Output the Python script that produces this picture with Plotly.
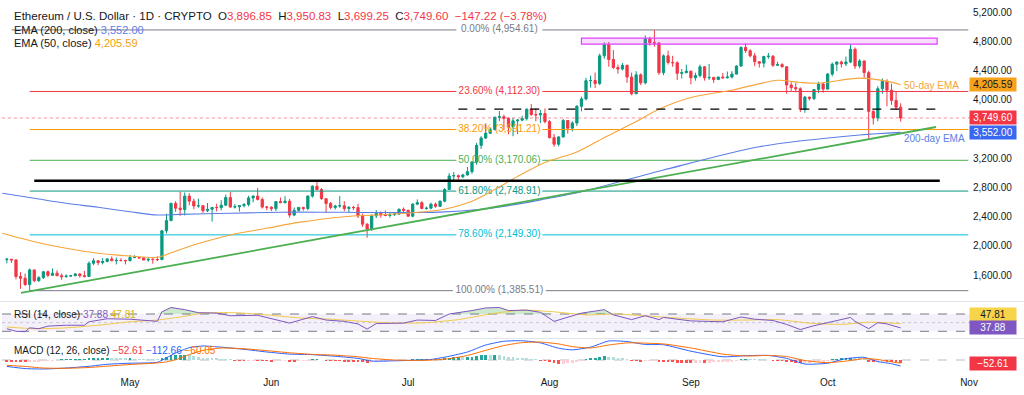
import numpy as np
import pandas as pd
import plotly.graph_objects as go

# ---------------- DATA ----------------
start_date = "2025-04-04"
end_date = "2025-10-17"

opens = [
    1810, 1816, 1806, 1580, 1555, 1470, 1670, 1522, 1565, 1645, 1595, 1625, 1590, 1577, 1585, 1590, 1615, 1590, 1580, 1760, 1795, 1770, 1785, 1820, 1795, 1800, 1798,
    1795, 1840, 1842, 1835, 1805, 1815, 1812, 1810, 2205, 2345, 2580, 2515, 2495, 2680, 2610, 2545, 2548, 2480, 2500, 2525, 2522, 2555, 2660, 2530, 2533, 2550, 2565, 2655, 2680, 2635, 2530,
    2528, 2510, 2605, 2590, 2610, 2420, 2485, 2525, 2510, 2680, 2815, 2770, 2645, 2580, 2525, 2545, 2548, 2510, 2525, 2522, 2410, 2295, 2230, 2410, 2445, 2420, 2415, 2425, 2435, 2500,
    2485, 2405, 2570, 2590, 2510, 2515, 2570, 2540, 2610, 2770, 2955, 2960, 2945, 2970, 3015, 3145, 3375, 3475, 3540, 3590, 3760, 3765, 3745, 3630, 3710, 3720, 3740, 3870, 3795, 3792, 3810,
    3700, 3480, 3390, 3490, 3715, 3610, 3680, 3910, 4010, 4260, 4262, 4220, 4600, 4750, 4550, 4440, 4420, 4470, 4310, 4080, 4340, 4230, 4830, 4780, 4775, 4370, 4600, 4510, 4505, 4360, 4370,
    4390, 4300, 4330, 4450, 4300, 4305, 4275, 4310, 4300, 4310, 4350, 4460, 4715, 4670, 4600, 4520, 4500, 4590, 4595, 4470, 4480, 4450, 4200, 4165, 4150, 3870, 4035, 4015, 4140, 4215,
    4145, 4350, 4485, 4515, 4490, 4515, 4690, 4460, 4530, 4370, 3840, 3750, 4150, 4250, 4130, 3990, 3896.85,
]
highs = [
    1835, 1820, 1815, 1640, 1620, 1690, 1672, 1585, 1650, 1660, 1690, 1665, 1620, 1610, 1595, 1625, 1620, 1655, 1785, 1830, 1800, 1830, 1830, 1855, 1840, 1830, 1810,
    1875, 1870, 1845, 1840, 1830, 1830, 1855, 2215, 2440, 2590, 2610, 2740, 2730, 2720, 2645, 2645, 2560, 2585, 2530, 2575, 2625, 2700, 2735, 2570, 2555, 2585, 2685, 2690, 2790, 2660, 2545,
    2540, 2610, 2660, 2680, 2640, 2525, 2530, 2535, 2690, 2830, 2880, 2790, 2650, 2600, 2560, 2680, 2610, 2545, 2545, 2575, 2440, 2310, 2430, 2490, 2470, 2485, 2450, 2445, 2510, 2525,
    2495, 2585, 2635, 2610, 2535, 2590, 2590, 2620, 2790, 2995, 3010, 2975, 2985, 3080, 3160, 3410, 3500, 3675, 3615, 3765, 3845, 3795, 3755, 3750, 3735, 3780, 3880, 3940, 3885, 3860, 3880,
    3720, 3530, 3500, 3735, 3720, 3705, 3925, 4040, 4300, 4330, 4370, 4630, 4785, 4790, 4680, 4480, 4500, 4480, 4370, 4390, 4360, 4880, 4860, 4954.61, 4790, 4620, 4670, 4600, 4525, 4420, 4480,
    4395, 4370, 4480, 4460, 4490, 4310, 4315, 4365, 4385, 4390, 4470, 4730, 4770, 4690, 4640, 4520, 4600, 4640, 4610, 4520, 4500, 4460, 4240, 4230, 4170, 4050, 4040, 4145, 4245, 4235,
    4365, 4510, 4525, 4535, 4590, 4755, 4715, 4555, 4535, 4395, 3855, 4185, 4290, 4280, 4220, 4110, 3950.83,
]
lows = [
    1760, 1765, 1540, 1410, 1450, 1385.51, 1500, 1505, 1545, 1570, 1590, 1585, 1535, 1565, 1575, 1585, 1565, 1565, 1575, 1735, 1735, 1745, 1775, 1790, 1745, 1785, 1745,
    1790, 1830, 1820, 1800, 1780, 1755, 1790, 1805, 2170, 2335, 2465, 2410, 2415, 2555, 2500, 2520, 2450, 2460, 2330, 2470, 2485, 2550, 2520, 2510, 2470, 2525, 2540, 2595, 2620, 2510, 2485,
    2475, 2475, 2585, 2580, 2385, 2405, 2470, 2480, 2485, 2660, 2760, 2630, 2455, 2500, 2495, 2520, 2475, 2455, 2490, 2380, 2260, 2110, 2205, 2380, 2385, 2405, 2385, 2410, 2420, 2450,
    2395, 2390, 2555, 2500, 2495, 2500, 2520, 2530, 2595, 2765, 2900, 2905, 2925, 2960, 2985, 3110, 3325, 3460, 3530, 3580, 3705, 3585, 3525, 3500, 3530, 3705, 3715, 3780, 3705, 3680, 3675,
    3470, 3355, 3360, 3480, 3535, 3565, 3640, 3840, 3990, 4165, 4160, 4200, 4560, 4450, 4420, 4355, 4400, 4230, 4060, 4075, 4200, 4210, 4740, 4725, 4340, 4335, 4480, 4450, 4270, 4290, 4360,
    4210, 4260, 4305, 4260, 4270, 4230, 4270, 4285, 4290, 4290, 4345, 4450, 4640, 4580, 4460, 4440, 4440, 4560, 4450, 4460, 4440, 4080, 4120, 4100, 3830, 3820, 3990, 3995, 4090, 4095,
    4140, 4320, 4390, 4440, 4460, 4500, 4420, 4430, 4300, 3450, 3660, 3705, 4080, 3910, 3930, 3860, 3699.25,
]
closes = [
    1816, 1806, 1580, 1555, 1470, 1670, 1522, 1565, 1645, 1595, 1625, 1590, 1577, 1585, 1590, 1615, 1590, 1580, 1760, 1795, 1770, 1785, 1820, 1795, 1800, 1798, 1795,
    1840, 1842, 1835, 1805, 1815, 1812, 1810, 2205, 2345, 2580, 2515, 2495, 2680, 2610, 2545, 2548, 2480, 2500, 2525, 2522, 2555, 2660, 2530, 2533, 2550, 2565, 2655, 2680, 2635, 2530, 2528,
    2510, 2605, 2590, 2610, 2420, 2485, 2525, 2510, 2680, 2815, 2770, 2645, 2580, 2525, 2545, 2548, 2510, 2525, 2522, 2410, 2295, 2230, 2410, 2445, 2420, 2415, 2425, 2435, 2500, 2485,
    2405, 2570, 2590, 2510, 2515, 2570, 2540, 2610, 2770, 2955, 2960, 2945, 2970, 3015, 3145, 3375, 3475, 3540, 3590, 3760, 3765, 3745, 3630, 3710, 3720, 3740, 3870, 3795, 3792, 3810, 3700,
    3480, 3390, 3490, 3715, 3610, 3680, 3910, 4010, 4260, 4262, 4220, 4600, 4750, 4550, 4440, 4420, 4470, 4310, 4080, 4340, 4230, 4830, 4780, 4775, 4370, 4600, 4510, 4505, 4360, 4370, 4390,
    4300, 4330, 4450, 4300, 4305, 4275, 4310, 4300, 4310, 4350, 4460, 4715, 4670, 4600, 4520, 4500, 4590, 4595, 4470, 4480, 4450, 4200, 4165, 4150, 3870, 4035, 4015, 4140, 4215, 4145,
    4350, 4485, 4515, 4490, 4515, 4690, 4460, 4530, 4370, 3840, 3750, 4150, 4250, 4130, 3990, 3896.82, 3749.60,
]

ema200_dates = ["2025-04-03", "2025-04-10", "2025-04-17", "2025-04-24", "2025-05-01", "2025-05-07",
                "2025-05-12", "2025-05-23", "2025-05-31", "2025-06-07", "2025-06-17", "2025-06-24",
                "2025-07-08", "2025-07-17", "2025-07-25", "2025-07-31", "2025-08-08", "2025-08-26",
                "2025-09-16", "2025-10-08", "2025-10-17"]
ema200_vals = [2718, 2650, 2581, 2527, 2466, 2421, 2430, 2445, 2455, 2460, 2458, 2455,
               2460, 2500, 2570, 2640, 2740, 3037, 3356, 3516, 3552.00]

ema50_dates = ["2025-04-03", "2025-04-10", "2025-04-17", "2025-04-24", "2025-05-01", "2025-05-07",
               "2025-05-10", "2025-05-16", "2025-05-23", "2025-05-31", "2025-06-07", "2025-06-17",
               "2025-06-24", "2025-07-02", "2025-07-08", "2025-07-15", "2025-07-20", "2025-07-25",
               "2025-07-31", "2025-08-07", "2025-08-13", "2025-08-20", "2025-08-25", "2025-09-01",
               "2025-09-10", "2025-09-20", "2025-09-25", "2025-09-29", "2025-10-08", "2025-10-15",
               "2025-10-17"]
ema50_vals = [2171, 2056, 1965, 1897, 1860, 1842, 1905, 2030, 2148, 2239, 2320, 2398,
              2421, 2453, 2490, 2610, 2770, 2950, 3140, 3285, 3480, 3700, 3870, 4030,
              4130, 4265, 4235, 4225, 4295, 4240, 4205.59]

fib_pcts = [0.0, 23.6, 38.2, 50.0, 61.8, 78.6, 100.0]
fib_vals = [4954.61, 4112.30, 3591.21, 3170.06, 2748.91, 2149.30, 1385.51]
fib_colors = ["#787b86", "#f23645", "#ff9800", "#4caf50", "#089981", "#00bcd4", "#787b86"]
fib_span = ["2025-04-09", "2025-10-31 20:00"]
fib_top_start = "2025-04-05"
fib_label_date = "2025-07-21"

trend_dates = ["2025-04-07 02:00", "2025-10-24 18:00"]
trend_prices = [1354, 3626]
support_dates = ["2025-04-10", "2025-10-25 14:00"]
support_prices = [2890, 2890]
dashed_dates = ["2025-07-12", "2025-10-25"]
dashed_prices = [3870, 3870]
zone_dates = ["2025-08-08", "2025-10-25"]
zone_prices = [4760, 4842]

rsi_dates = ["2025-04-04", "2025-04-06", "2025-04-08", "2025-04-09", "2025-04-11", "2025-04-13", "2025-04-17", "2025-04-21", "2025-04-22", "2025-04-26",
             "2025-05-01", "2025-05-06", "2025-05-07", "2025-05-08", "2025-05-10", "2025-05-13", "2025-05-16", "2025-05-20", "2025-05-23", "2025-05-29",
             "2025-06-01", "2025-06-05", "2025-06-10", "2025-06-13", "2025-06-17", "2025-06-20", "2025-06-22", "2025-06-24", "2025-06-30",
             "2025-07-03", "2025-07-07", "2025-07-10", "2025-07-15", "2025-07-18", "2025-07-21", "2025-07-23", "2025-07-27", "2025-07-30",
             "2025-08-02", "2025-08-05", "2025-08-08", "2025-08-13", "2025-08-15", "2025-08-19", "2025-08-22", "2025-08-25", "2025-08-26",
             "2025-09-01", "2025-09-08", "2025-09-12", "2025-09-15", "2025-09-19", "2025-09-22", "2025-09-25", "2025-09-28",
             "2025-10-01", "2025-10-06", "2025-10-07", "2025-10-10", "2025-10-12", "2025-10-14", "2025-10-17"]
rsi_vals = [36, 30, 29, 38, 36, 42, 44, 44, 52, 59,
            58, 55, 53, 75, 85, 80, 73, 72, 66, 67,
            60, 49, 64, 56, 53, 47, 35, 48, 49,
            56, 55, 70, 78, 84, 85, 78, 79, 74,
            53, 62, 72, 80, 68, 57, 66, 57, 62,
            54, 52, 63, 58, 55, 46, 34, 43,
            50, 62, 53, 36, 50, 47, 37.88]

rsima_dates = ["2025-04-04", "2025-04-10", "2025-04-17", "2025-04-24", "2025-05-01", "2025-05-07", "2025-05-12", "2025-05-17",
               "2025-05-24", "2025-06-01", "2025-06-07", "2025-06-14", "2025-06-21", "2025-06-28", "2025-07-05", "2025-07-12",
               "2025-07-19", "2025-07-26", "2025-08-02", "2025-08-09", "2025-08-16", "2025-08-23", "2025-08-30", "2025-09-06",
               "2025-09-13", "2025-09-20", "2025-09-27", "2025-10-04", "2025-10-10", "2025-10-17"]
rsima_vals = [40, 36, 38, 44, 52, 56, 63, 72, 73, 67, 61, 58, 53, 49, 50, 57,
              70, 79, 75, 68, 70, 65, 60, 56, 56, 57, 49, 46, 51, 47.81]

macd_dates = ["2025-04-04", "2025-04-08", "2025-04-12", "2025-04-17", "2025-04-22", "2025-04-26",
              "2025-05-01", "2025-05-07", "2025-05-09", "2025-05-11", "2025-05-14", "2025-05-17", "2025-05-21", "2025-05-26", "2025-05-31",
              "2025-06-05", "2025-06-10", "2025-06-15", "2025-06-20", "2025-06-23", "2025-06-28",
              "2025-07-02", "2025-07-06", "2025-07-10", "2025-07-14", "2025-07-18", "2025-07-22", "2025-07-26", "2025-07-30",
              "2025-08-03", "2025-08-06", "2025-08-10", "2025-08-14", "2025-08-18", "2025-08-22", "2025-08-26",
              "2025-09-01", "2025-09-08", "2025-09-13", "2025-09-18", "2025-09-22", "2025-09-26",
              "2025-10-01", "2025-10-05", "2025-10-09", "2025-10-12", "2025-10-15", "2025-10-17"]
macd_vals = [-120, -160, -168, -150, -118, -80,
             -60, -42, 40, 130, 230, 262, 240, 200, 150,
             110, 100, 70, 30, -20, -15,
             -5, 10, 70, 150, 280, 350, 360, 320,
             220, 190, 240, 355, 345, 290, 285,
             165, 60, 80, 85, 30, -75,
             -60, 25, 50, -30, -70, -112.66]
signal_vals = [-100, -120, -150, -155, -140, -115,
               -85, -55, -35, 5, 100, 180, 224, 210, 175,
               135, 105, 90, 60, 30, 0,
               -8, -2, 25, 85, 180, 270, 325, 335,
               300, 250, 225, 280, 320, 315, 300,
               225, 110, 75, 85, 65, -10,
               -50, -20, 25, 10, -35, -60.05]

hist_vals = [
    -25, -25, -35, -40, -42, -30, -28, -20, -12, -8, -3, 0, 2, 5, 8, 12, 12, 12, 25, 32, 33, 34, 35, 30, 28, 25, 20,
    20, 18, 15, 10, 8, 6, 5, 40, 65, 90, 95, 95, 100, 85, 70, 58, 45, 35, 28, 20, 14, 12, 5, -2, -6, -8, -6, -5, -6, -12, -16,
    -20, -18, -17, -15, -22, -22, -18, -16, -6, 5, 8, 0, -8, -15, -18, -18, -20, -20, -20, -25, -38, -50, -45, -35, -28, -22, -16, -10, -4, -2,
    -5, 2, 8, 8, 8, 10, 10, 14, 25, 42, 50, 50, 48, 50, 60, 78, 90, 95, 92, 95, 90, 78, 60, 50, 40, 30, 28, 18, 8, -2, -15,
    -40, -65, -80, -70, -62, -50, -30, -10, 15, 30, 38, 55, 70, 62, 50, 40, 32, 15, -5, -12, -25, -10, -5, -2, -25, -30, -38, -42, -52, -55, -55,
    -58, -56, -48, -50, -48, -45, -40, -35, -28, -20, -8, 10, 18, 16, 10, 4, 2, 0, -6, -10, -14, -30, -40, -48, -65, -62, -55, -42, -30, -22,
    -8, 8, 18, 25, 28, 35, 28, 22, 10, -22, -40, -30, -25, -28, -35, -42, -52.61,
]

month_ticks = ["2025-05-01", "2025-06-01", "2025-07-01", "2025-08-01", "2025-09-01", "2025-10-01", "2025-11-01"]
month_labels = ["May", "Jun", "Jul", "Aug", "Sep", "Oct", "Nov"]
price_ticks = [1600, 2000, 2400, 2800, 3200, 4000, 4400, 4800, 5200]

# ---------------- STYLE ----------------
UP = "#089981"
DOWN = "#f23645"
TXT = "#131722"
FONT = "Liberation Sans, Arial, sans-serif"
EMA200_C = "#5b7ee5"
EMA50_C = "#f5a53a"
RSI_C = "#7e57c2"
RSIMA_C = "#f2c94c"
MACD_C = "#2962ff"
SIG_C = "#ff6d00"

dates = pd.date_range(start_date, end_date, freq="D")
n = len(dates)
assert len(opens) == n and len(highs) == n and len(lows) == n and len(closes) == n and len(hist_vals) == n, \
    (n, len(opens), len(highs), len(lows), len(closes), len(hist_vals))

# geometry (pixels) -> domains / ranges
W, H = 1024, 395
ML, MR, MT, MB = 2, 52, 2, 20
PW = W - ML - MR
PH = H - MT - MB
px_per_day = 4.56
x_left = pd.Timestamp("2025-05-01") - pd.Timedelta(days=(130 - ML) / px_per_day)
x_right = x_left + pd.Timedelta(days=PW / px_per_day)


def dom(p_top, p_bot):
    return [(H - MB - p_bot) / PH, (H - MB - p_top) / PH]


price_ppu = 263 / 3600.0
main_dom = dom(MT, 301)
main_rng = [1600 - (301 - 275) / price_ppu, 1600 + (275 - MT) / price_ppu]
rsi_ppu = 0.4325
rsi_dom = dom(302, 338)
rsi_rng = [70 - (338 - 314) / rsi_ppu, 70 + (314 - 302) / rsi_ppu]
macd_ppu = 0.0535
macd_dom = dom(339, H - MB)
macd_rng = [-(H - MB - 360) / macd_ppu, (360 - 339) / macd_ppu]

fig = go.Figure()

# Fibonacci lines (with gap for label) + labels under candles
lab_c = pd.Timestamp(fib_label_date)
gap = pd.Timedelta(days=43 / px_per_day)
for pct, val, col in zip(fib_pcts, fib_vals, fib_colors):
    g = gap * (1.08 if pct >= 100 else 1.0)
    x0 = pd.Timestamp(fib_top_start if pct == 0 else fib_span[0])
    xs = [x0, lab_c - g, None, lab_c + g, pd.Timestamp(fib_span[1])]
    fig.add_trace(go.Scatter(x=xs, y=[val, val, None, val, val], mode="lines",
                             line=dict(color=col, width=1), connectgaps=False,
                             hoverinfo="skip", yaxis="y"))
    fig.add_trace(go.Scatter(x=[lab_c], y=[val], mode="text",
                             text=[f"{pct:.2f}% ({val:,.2f})"],
                             textfont=dict(color=col, size=10, family=FONT),
                             hoverinfo="skip", yaxis="y"))

# candles
fig.add_trace(go.Candlestick(
    x=dates, open=opens, high=highs, low=lows, close=closes,
    increasing=dict(line=dict(color=UP, width=1), fillcolor=UP),
    decreasing=dict(line=dict(color=DOWN, width=1), fillcolor=DOWN),
    whiskerwidth=0, hoverinfo="skip", yaxis="y"))

# EMAs
fig.add_trace(go.Scatter(x=ema200_dates, y=ema200_vals, mode="lines",
                         line=dict(color=EMA200_C, width=1.1, shape="spline", smoothing=0.8),
                         hoverinfo="skip", yaxis="y"))
fig.add_trace(go.Scatter(x=ema50_dates, y=ema50_vals, mode="lines",
                         line=dict(color=EMA50_C, width=1.1, shape="spline", smoothing=0.8),
                         hoverinfo="skip", yaxis="y"))

# drawings
fig.add_trace(go.Scatter(x=trend_dates, y=trend_prices, mode="lines",
                         line=dict(color="#4caf50", width=1.8), hoverinfo="skip", yaxis="y"))
fig.add_trace(go.Scatter(x=support_dates, y=support_prices, mode="lines",
                         line=dict(color="#000000", width=2.5), hoverinfo="skip", yaxis="y"))
fig.add_trace(go.Scatter(x=dashed_dates, y=dashed_prices, mode="lines",
                         line=dict(color="#000000", width=1.3, dash="dash"), hoverinfo="skip", yaxis="y"))

# RSI pane
rsi_arr = np.array(rsi_vals, dtype=float)
fig.add_trace(go.Scatter(x=rsi_dates, y=[70] * len(rsi_vals), mode="lines",
                         line=dict(width=0, color="rgba(0,0,0,0)"), hoverinfo="skip", yaxis="y2"))
fig.add_trace(go.Scatter(x=rsi_dates, y=np.maximum(rsi_arr, 70), mode="lines", fill="tonexty",
                         fillcolor="rgba(76,175,80,0.28)", line=dict(width=0, color="rgba(0,0,0,0)"),
                         hoverinfo="skip", yaxis="y2"))
fig.add_trace(go.Scatter(x=rsi_dates, y=[30] * len(rsi_vals), mode="lines",
                         line=dict(width=0, color="rgba(0,0,0,0)"), hoverinfo="skip", yaxis="y2"))
fig.add_trace(go.Scatter(x=rsi_dates, y=np.minimum(rsi_arr, 30), mode="lines", fill="tonexty",
                         fillcolor="rgba(242,54,69,0.25)", line=dict(width=0, color="rgba(0,0,0,0)"),
                         hoverinfo="skip", yaxis="y2"))
fig.add_trace(go.Scatter(x=rsima_dates, y=rsima_vals, mode="lines",
                         line=dict(color=RSIMA_C, width=1, shape="spline", smoothing=0.6),
                         hoverinfo="skip", yaxis="y2"))
fig.add_trace(go.Scatter(x=rsi_dates, y=rsi_vals, mode="lines",
                         line=dict(color=RSI_C, width=1), hoverinfo="skip", yaxis="y2"))

# MACD pane
hist_colors = []
prev = None
for h in hist_vals:
    if h >= 0:
        c = "#26a69a" if (prev is None or h >= prev) else "#b2dfdb"
    else:
        c = "#ff5252" if (prev is None or h <= prev) else "#ffcdd2"
    hist_colors.append(c)
    prev = h
fig.add_trace(go.Bar(x=dates, y=hist_vals, marker=dict(color=hist_colors, line=dict(width=0)),
                     width=0.62 * 86400000, hoverinfo="skip", yaxis="y3"))
fig.add_trace(go.Scatter(x=macd_dates, y=macd_vals, mode="lines",
                         line=dict(color=MACD_C, width=1, shape="spline", smoothing=0.6),
                         hoverinfo="skip", yaxis="y3"))
fig.add_trace(go.Scatter(x=macd_dates, y=signal_vals, mode="lines",
                         line=dict(color=SIG_C, width=1, shape="spline", smoothing=0.6),
                         hoverinfo="skip", yaxis="y3"))

# ---------------- SHAPES ----------------
shapes = [
    dict(type="rect", xref="x", yref="y", x0=zone_dates[0], x1=zone_dates[1],
         y0=zone_prices[0], y1=zone_prices[1], line=dict(color="#e040fb", width=1.2),
         fillcolor="rgba(224,64,251,0.18)", layer="above"),
    dict(type="line", xref="paper", yref="y", x0=0, x1=1, y0=closes[-1], y1=closes[-1],
         line=dict(color="rgba(242,54,69,0.55)", width=1, dash="dot"), layer="below"),
    dict(type="rect", xref="paper", yref="y2", x0=0, x1=1, y0=30, y1=70,
         fillcolor="rgba(126,87,194,0.09)", line=dict(width=0), layer="below"),
    dict(type="line", xref="paper", yref="y2", x0=0, x1=1, y0=70, y1=70,
         line=dict(color="#787b86", width=1, dash="dash"), layer="below"),
    dict(type="line", xref="paper", yref="y2", x0=0, x1=1, y0=30, y1=30,
         line=dict(color="#787b86", width=1, dash="dash"), layer="below"),
    dict(type="line", xref="paper", yref="y2", x0=0, x1=1, y0=50, y1=50,
         line=dict(color="rgba(120,123,134,0.35)", width=1, dash="dot"), layer="below"),
    dict(type="line", xref="paper", yref="y3", x0=0, x1=1, y0=0, y1=0,
         line=dict(color="rgba(120,123,134,0.5)", width=1, dash="dash"), layer="below"),
    dict(type="line", xref="paper", yref="paper", x0=-0.01, x1=1.06,
         y0=(H - MB - 301.5) / PH, y1=(H - MB - 301.5) / PH,
         line=dict(color="#e0e3eb", width=1)),
    dict(type="line", xref="paper", yref="paper", x0=-0.01, x1=1.06,
         y0=(H - MB - 338.5) / PH, y1=(H - MB - 338.5) / PH,
         line=dict(color="#e0e3eb", width=1)),
]


def py(p):
    return (H - MB - p) / PH


def px(p):
    return (p - ML) / PW


def span(txt, col):
    return f"<span style='color:{col}'>{txt}</span>"


chg = closes[-1] - closes[-2]
chg_pct = chg / closes[-2] * 100
neg = lambda v: f"{v:,.2f}".replace("-", "−")

line1 = ("Ethereum / U.S. Dollar · 1D · CRYPTO  "
         f"O{span(f'{opens[-1]:,.2f}', DOWN)}  H{span(f'{highs[-1]:,.2f}', DOWN)}  "
         f"L{span(f'{lows[-1]:,.2f}', DOWN)}  C{span(f'{closes[-1]:,.2f}', DOWN)}  "
         f"{span(neg(chg) + ' (' + neg(chg_pct) + '%)', DOWN)}")
line2 = f"EMA (200, close) {span(f'{ema200_vals[-1]:,.2f}', EMA200_C)}"
line3 = f"EMA (50, close) {span(f'{ema50_vals[-1]:,.2f}', '#f59e0b')}"
line_rsi = f"RSI (14, close) {span(f'{rsi_vals[-1]:.2f}', RSI_C)} {span(f'{rsima_vals[-1]:.2f}', '#e0b000')}"
line_macd = (f"MACD (12, 26, close) {span(neg(hist_vals[-1]), DOWN)} "
             f"{span(neg(macd_vals[-1]), MACD_C)} {span(neg(signal_vals[-1]), SIG_C)}")

ann = []
for txt, p, fs in [(line1, 16, 11.5), (line2, 30, 11), (line3, 43, 11), (line_rsi, 314, 10), (line_macd, 350, 10)]:
    ann.append(dict(xref="paper", yref="paper", x=px(12), y=py(p), xanchor="left", yanchor="middle",
                    text=txt, showarrow=False, font=dict(family=FONT, size=fs, color=TXT)))

boxes = [
    (f"{ema50_vals[-1]:,.2f}", "y", ema50_vals[-1], "#f7a21b", TXT),
    (f"{closes[-1]:,.2f}", "y", closes[-1], "#f23645", "#ffffff"),
    (f"{ema200_vals[-1]:,.2f}", "y", ema200_vals[-1], "#3867f0", "#ffffff"),
    (f"{rsima_vals[-1]:.2f}", "y2", 70, "#f7d54a", TXT),
    (f"{rsi_vals[-1]:.2f}", "y2", 38.8, "#7e57c2", "#ffffff"),
    (neg(hist_vals[-1]), "y3", -56, "#f23645", "#ffffff"),
]
for txt, yr, yv, bg, fc in boxes:
    ann.append(dict(xref="paper", yref=yr, x=1, y=yv, xanchor="left", yanchor="middle",
                    xshift=-3, text=txt, showarrow=False, bgcolor=bg, width=46, height=13,
                    borderpad=0, align="center", font=dict(family=FONT, size=10, color=fc)))

ann.append(dict(xref="x", yref="y", x="2025-10-17 08:00", y=4200, xanchor="left", yanchor="middle",
                text="50-day EMA", showarrow=False, font=dict(family=FONT, size=10, color=EMA50_C)))
ann.append(dict(xref="x", yref="y", x="2025-10-17 08:00", y=3462, xanchor="left", yanchor="middle",
                text="200-day EMA", showarrow=False, font=dict(family=FONT, size=10, color=EMA200_C)))

fig.update_layout(
    width=W, height=H,
    margin=dict(l=ML, r=MR, t=MT, b=MB),
    paper_bgcolor="#ffffff", plot_bgcolor="#ffffff",
    showlegend=False, hovermode=False, bargap=0,
    font=dict(family=FONT, size=10, color=TXT),
    xaxis=dict(type="date", range=[x_left, x_right], anchor="y3",
               tickvals=month_ticks, ticktext=month_labels,
               showgrid=False, zeroline=False, showline=False, ticks="",
               tickfont=dict(size=10, color=TXT), rangeslider=dict(visible=False)),
    yaxis=dict(domain=main_dom, range=main_rng, side="right", tickvals=price_ticks,
               tickformat=",.2f", showgrid=False, zeroline=False, showline=False, ticks="",
               tickfont=dict(size=10, color=TXT)),
    yaxis2=dict(domain=rsi_dom, range=rsi_rng, side="right", showticklabels=False,
                showgrid=False, zeroline=False, showline=False, ticks=""),
    yaxis3=dict(domain=macd_dom, range=macd_rng, side="right", showticklabels=False,
                showgrid=False, zeroline=False, showline=False, ticks=""),
    shapes=shapes,
    annotations=ann,
)

fig.write_html("out.html", config={"displayModeBar": False},
               post_script="document.body.style.margin='0px';document.body.style.padding='0px';")
